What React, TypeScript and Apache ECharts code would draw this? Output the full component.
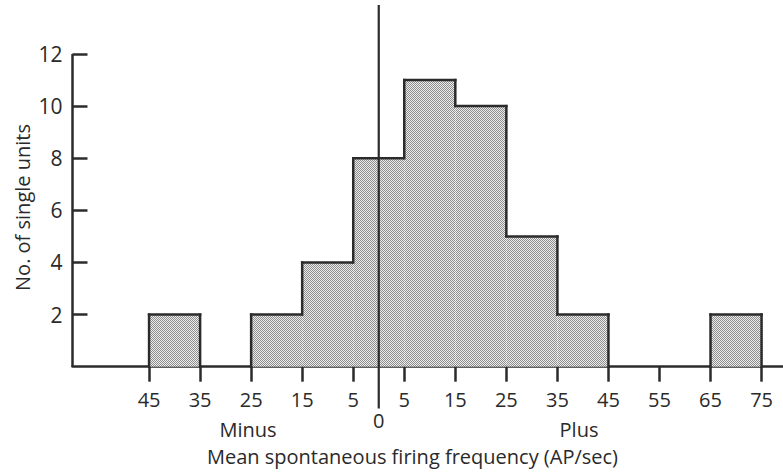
import React, { useEffect, useRef } from "react";
import * as echarts from "echarts";

const binStart = [-45, -25, -15, -5, 0, 5, 15, 25, 35, 65];
const binEnd = [-35, -15, -5, 0, 5, 15, 25, 35, 45, 75];
const counts = [2, 2, 4, 8, 8, 11, 10, 5, 2, 2];
const xTickValues = [-45, -35, -25, -15, -5, 5, 15, 25, 35, 45, 55, 65, 75];
const zeroTick = [0];
const yTickValues = [2, 4, 6, 8, 10, 12];
const sideLabels = ["Minus", "Plus"];
const xTitle = "Mean spontaneous firing frequency (AP/sec)";
const yTitle = "No. of single units";

const INK = "#2b2b2b";
const TEXT = "#2a2a2a";
const FONT = "Open Sans";

function makePattern() {
  const c = document.createElement("canvas");
  c.width = 2;
  c.height = 2;
  const ctx = c.getContext("2d")!;
  ctx.fillStyle = "#ececec";
  ctx.fillRect(0, 0, 2, 2);
  ctx.fillStyle = "#8e8e8e";
  ctx.fillRect(0, 0, 1, 1);
  ctx.fillRect(1, 1, 1, 1);
  return c;
}

export default function App() {
  const ref = useRef<HTMLDivElement>(null);
  useEffect(() => {
    if (!ref.current) return;
    const chart = echarts.init(ref.current, null, { renderer: "svg" });
    const pattern = { image: makePattern(), repeat: "repeat" as const };
    const data = binStart.map((s, i) => [s, binEnd[i], counts[i]]);

    const option: any = {
      animation: false,
      backgroundColor: "#ffffff",
      textStyle: { fontFamily: FONT },
      grid: { left: 72.5, right: 0, top: 5, bottom: 105.3 },
      xAxis: [
        {
          type: "value",
          min: -60,
          max: 79.2,
          position: "bottom",
          splitLine: { show: false },
          axisLine: { show: true, onZero: false, lineStyle: { color: INK, width: 2.5 } },
          axisTick: {
            show: true,
            customValues: xTickValues,
            length: 15,
            inside: false,
            lineStyle: { color: INK, width: 2.5 },
          },
          axisLabel: {
            customValues: xTickValues,
            formatter: (v: number) => String(Math.abs(v)),
            margin: 23,
            color: TEXT,
            fontSize: 20,
            fontFamily: FONT,
          },
        },
        {
          type: "value",
          min: -60,
          max: 79.2,
          position: "bottom",
          offset: 0,
          splitLine: { show: false },
          axisLine: { show: false, onZero: false },
          axisTick: { show: false },
          axisLabel: {
            customValues: zeroTick,
            formatter: (v: number) => String(v),
            margin: 44,
            color: TEXT,
            fontSize: 20,
            fontFamily: FONT,
          },
        },
      ],
      yAxis: {
        type: "value",
        min: 0,
        max: 13.88,
        position: "left",
        splitLine: { show: false },
        axisLine: { show: false, onZero: false },
        axisTick: {
          show: true,
          customValues: yTickValues,
          inside: true,
          length: 15,
          lineStyle: { color: INK, width: 2.5 },
        },
        axisLabel: {
          customValues: yTickValues,
          margin: 10,
          color: TEXT,
          fontSize: 21,
          fontFamily: FONT,
        },
      },
      graphic: [
        {
          type: "text",
          x: 248,
          y: 429,
          style: { text: sideLabels[0], fill: TEXT, font: `20px "${FONT}"`, align: "center", verticalAlign: "middle" },
        },
        {
          type: "text",
          x: 579,
          y: 429,
          style: { text: sideLabels[1], fill: TEXT, font: `20px "${FONT}"`, align: "center", verticalAlign: "middle" },
        },
        {
          type: "text",
          x: 412.5,
          y: 456,
          style: { text: xTitle, fill: TEXT, font: `20px "${FONT}"`, align: "center", verticalAlign: "middle" },
        },
        {
          type: "text",
          x: 22,
          y: 207.5,
          rotation: Math.PI / 2,
          style: { text: yTitle, fill: TEXT, font: `20px "${FONT}"`, align: "center", verticalAlign: "middle" },
        },
      ],
      series: [
        {
          type: "custom",
          xAxisIndex: 0,
          yAxisIndex: 0,
          data,
          clip: false,
          encode: { x: [0, 1], y: 2 },
          renderItem: (params: any, api: any) => {
            const i = params.dataIndex;
            const s = api.value(0);
            const e = api.value(1);
            const h = api.value(2);
            const tl = api.coord([s, h]);
            const br = api.coord([e, 0]);
            const prevAdj = i > 0 && binEnd[i - 1] === s;
            const nextAdj = i < binStart.length - 1 && binStart[i + 1] === e;
            const prevH = prevAdj ? counts[i - 1] : 0;
            const nextH = nextAdj ? counts[i + 1] : 0;
            const stroke = { stroke: INK, lineWidth: 2.5, lineCap: "square" };
            const children: any[] = [
              {
                type: "rect",
                shape: { x: tl[0], y: tl[1], width: br[0] - tl[0], height: br[1] - tl[1] },
                style: { fill: pattern },
              },
              {
                type: "line",
                shape: { x1: tl[0], y1: tl[1], x2: br[0], y2: tl[1] },
                style: stroke,
              },
            ];
            if (h > prevH) {
              const p = api.coord([s, prevH]);
              children.push({ type: "line", shape: { x1: tl[0], y1: p[1], x2: tl[0], y2: tl[1] }, style: stroke });
            }
            if (h > nextH) {
              const p = api.coord([e, nextH]);
              children.push({ type: "line", shape: { x1: br[0], y1: p[1], x2: br[0], y2: tl[1] }, style: stroke });
            }
            return { type: "group", children };
          },
          z: 2,
        },
        {
          type: "line",
          xAxisIndex: 0,
          yAxisIndex: 0,
          data: [
            [0, -1.6],
            [0, 13.88],
          ],
          clip: false,
          symbol: "none",
          silent: true,
          lineStyle: { color: INK, width: 2.2 },
          z: 5,
        },
        {
          type: "line",
          xAxisIndex: 0,
          yAxisIndex: 0,
          data: [
            [-60, 0],
            [-60, 12],
          ],
          clip: false,
          symbol: "none",
          silent: true,
          lineStyle: { color: INK, width: 2.5 },
          z: 5,
        },
      ],
    };
    chart.setOption(option);
    return () => chart.dispose();
  }, []);
  return (
    <div
      ref={ref}
      style={{ position: "absolute", left: 0, top: 0, width: 783, height: 472 }}
    />
  );
}
